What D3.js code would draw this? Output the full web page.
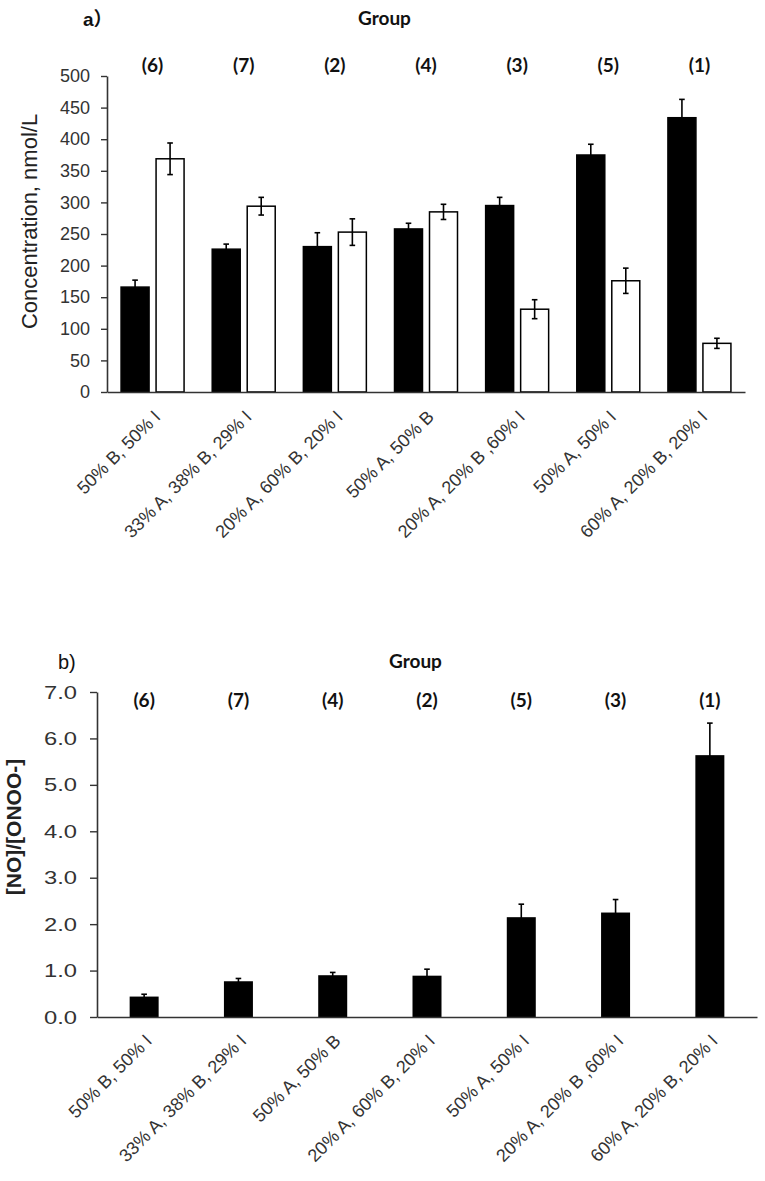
<!DOCTYPE html>
<html><head><meta charset="utf-8">
<script src="https://cdn.jsdelivr.net/npm/d3@7"></script>
<style>body{margin:0;background:#fff}svg{display:block}</style>
</head><body>
<svg id="c" width="765" height="1181"></svg>
<script>
// ---------- data: chart a ----------
const catsA = ["50% B, 50% I","33% A, 38% B, 29% I","20% A, 60% B, 20% I","50% A, 50% B","20% A, 20% B ,60% I","50% A, 50% I","60% A, 20% B, 20% I"];
const groupsA = ["(6)","(7)","(2)","(4)","(3)","(5)","(1)"];
const seriesA = ["NO","ONOO-"];
const noA = [166,226,230,258,295,375,434];
const noErrA = [11,8,22,9,13,17,29];
const onooA = [369,294,253,285,131,176,77];
const onooErrA = [25,14,21,12,15,20,8];
const yTicksA = [0,50,100,150,200,250,300,350,400,450,500];

// ---------- data: chart b ----------
const catsB = ["50% B, 50% I","33% A, 38% B, 29% I","50% A, 50% B","20% A, 60% B, 20% I","50% A, 50% I","20% A, 20% B ,60% I","60% A, 20% B, 20% I"];
const groupsB = ["(6)","(7)","(4)","(2)","(5)","(3)","(1)"];
const ratioB = [0.44,0.77,0.90,0.89,2.15,2.25,5.64];
const ratioErrB = [0.05,0.06,0.06,0.14,0.28,0.28,0.69];
const yTicksB = [0,1,2,3,4,5,6,7];

const svg = d3.select("#c");
const SANS = "'Liberation Sans', Arial, sans-serif";
const CAL = "Lato, 'Open Sans', sans-serif";

function styleAxis(g){
  g.selectAll("path.domain").attr("stroke","#333").attr("stroke-width",1.6);
  g.selectAll(".tick line").attr("stroke","#333").attr("stroke-width",1.4);
}

// ================= chart a =================
const xA = d3.scaleBand().domain(catsA).range([107,745]);
const yA = d3.scaleLinear().domain([0,500]).range([392,76]);
const subA = d3.scaleBand().domain(seriesA).range([-31.5,31.5]).paddingInner(0.2);

const gA = svg.append("g");
const valsA = {"NO":noA,"ONOO-":onooA};
const errsA = {"NO":noErrA,"ONOO-":onooErrA};

seriesA.forEach(s=>{
  const rows = catsA.map((c,i)=>({c, v:valsA[s][i], e:errsA[s][i]}));
  gA.selectAll(null).data(rows).join("rect")
    .attr("x",d=>xA(d.c)+xA.bandwidth()/2+subA(s))
    .attr("y",d=>yA(d.v))
    .attr("width",subA.bandwidth())
    .attr("height",d=>yA(0)-yA(d.v))
    .attr("fill", s==="NO" ? "#000" : "#fff")
    .attr("stroke","#000").attr("stroke-width",1.5);
  const eg = gA.selectAll(null).data(rows).join("g")
    .attr("transform",d=>`translate(${xA(d.c)+xA.bandwidth()/2+subA(s)+subA.bandwidth()/2},0)`);
  eg.append("line").attr("x1",0).attr("x2",0)
    .attr("y1",d=>yA(d.v-d.e)).attr("y2",d=>yA(d.v+d.e))
    .attr("stroke","#000").attr("stroke-width",1.6);
  eg.append("line").attr("x1",-2.8).attr("x2",2.8)
    .attr("y1",d=>yA(d.v+d.e)).attr("y2",d=>yA(d.v+d.e))
    .attr("stroke","#000").attr("stroke-width",1.6);
  eg.append("line").attr("x1",-2.8).attr("x2",2.8)
    .attr("y1",d=>yA(d.v-d.e)).attr("y2",d=>yA(d.v-d.e))
    .attr("stroke","#000").attr("stroke-width",1.6);
});

const axYA = gA.append("g").attr("transform","translate(107,0)")
  .call(d3.axisLeft(yA).tickValues(yTicksA).tickSize(6).tickSizeOuter(0).tickPadding(11).tickFormat(d3.format("d")));
styleAxis(axYA);
axYA.selectAll("text").attr("font-family",SANS).attr("font-size",18).attr("fill","#333");

const axXA = gA.append("g").attr("transform","translate(0,392)")
  .call(d3.axisBottom(xA).tickSize(0).tickSizeOuter(0));
styleAxis(axXA);
axXA.selectAll("text").attr("x",0).attr("y",0).attr("dy",0)
  .attr("text-anchor","end").attr("transform","translate(9,26) rotate(-45)")
  .attr("font-family",SANS).attr("font-size",18).attr("fill","#333");

gA.selectAll(null).data(catsA).join("text")
  .attr("x",d=>xA(d)+xA.bandwidth()/2).attr("y",72)
  .attr("text-anchor","middle").attr("font-family",CAL).attr("font-weight","bold")
  .attr("font-size",19).attr("fill","#111")
  .text((d,i)=>groupsA[i]);

gA.append("text").attr("x",358).attr("y",25).attr("font-family",CAL).attr("font-weight","bold")
  .attr("font-size",19).attr("fill","#111").text("Group");
gA.append("text").attr("x",83).attr("y",26).attr("font-family",SANS+", 'Noto Sans CJK SC'").attr("font-weight","bold")
  .attr("font-size",19).attr("fill","#111").text("a）");
gA.append("text").attr("transform","translate(37,221.5) rotate(-90)").attr("text-anchor","middle")
  .attr("font-family",SANS).attr("font-size",22).attr("fill","#222").text("Concentration, nmol/L");

// ================= chart b =================
const xB = d3.scaleBand().domain(catsB).range([97,757]);
const yB = d3.scaleLinear().domain([0,7]).range([1017,692]);
const bwB = 29;
const gB = svg.append("g");
const rowsB = catsB.map((c,i)=>({c, v:ratioB[i], e:ratioErrB[i]}));

gB.selectAll(null).data(rowsB).join("rect")
  .attr("x",d=>xB(d.c)+xB.bandwidth()/2-bwB/2)
  .attr("y",d=>yB(d.v)).attr("width",bwB).attr("height",d=>yB(0)-yB(d.v))
  .attr("fill","#000");
const egB = gB.selectAll(null).data(rowsB).join("g")
  .attr("transform",d=>`translate(${xB(d.c)+xB.bandwidth()/2},0)`);
egB.append("line").attr("y1",d=>yB(d.v-d.e)).attr("y2",d=>yB(d.v+d.e))
  .attr("stroke","#000").attr("stroke-width",1.6);
egB.append("line").attr("x1",-2.8).attr("x2",2.8)
  .attr("y1",d=>yB(d.v+d.e)).attr("y2",d=>yB(d.v+d.e))
  .attr("stroke","#000").attr("stroke-width",1.6);

const sxB = 1.25;
const axYB = gB.append("g").attr("transform","translate(97,0)")
  .call(d3.axisLeft(yB).tickValues(yTicksB).tickSize(7).tickSizeOuter(0).tickPadding(13).tickFormat(d3.format(".1f")));
styleAxis(axYB);
axYB.selectAll("text").attr("x",-20/sxB).attr("transform",`scale(${sxB},1)`)
  .attr("font-family",SANS).attr("font-size",19).attr("fill","#333");

const axXB = gB.append("g").attr("transform","translate(0,1017)")
  .call(d3.axisBottom(xB).tickSize(0).tickSizeOuter(0));
styleAxis(axXB);
axXB.selectAll("text").attr("x",0).attr("y",0).attr("dy",0)
  .attr("text-anchor","end").attr("transform","translate(9,25) rotate(-45)")
  .attr("font-family",SANS).attr("font-size",18).attr("fill","#333");

gB.selectAll(null).data(catsB).join("text")
  .attr("x",d=>xB(d)+xB.bandwidth()/2).attr("y",707)
  .attr("text-anchor","middle").attr("font-family",CAL).attr("font-weight","bold")
  .attr("font-size",19).attr("fill","#111")
  .text((d,i)=>groupsB[i]);

gB.append("text").attr("x",389).attr("y",668).attr("font-family",CAL).attr("font-weight","bold")
  .attr("font-size",19).attr("fill","#111").text("Group");
gB.append("text").attr("x",58).attr("y",669).attr("font-family",SANS)
  .attr("font-size",20).attr("fill","#111").text("b)");
gB.append("text").attr("transform","translate(21,827) rotate(-90)").attr("text-anchor","middle")
  .attr("font-family",SANS).attr("font-weight","bold").attr("font-size",21).attr("fill","#222").text("[NO]/[ONOO-]");
</script>
</body></html>
